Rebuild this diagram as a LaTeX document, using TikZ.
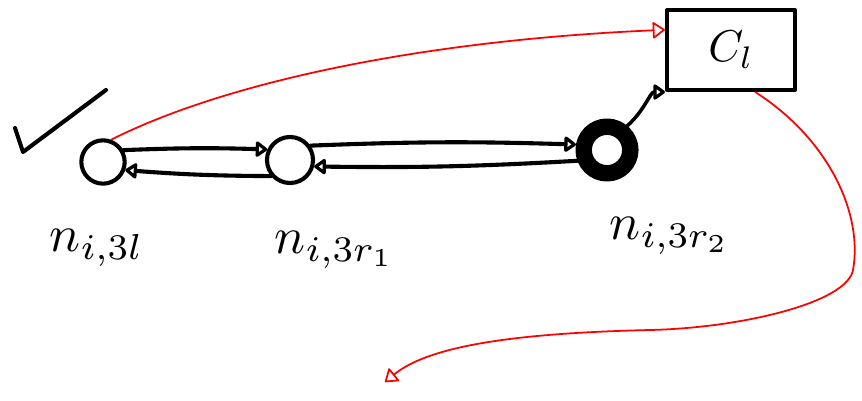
\documentclass[tikz,border=0pt]{standalone}
\usepackage{graphicx}
\usetikzlibrary{arrows.meta}
\newcommand{\bigtxt}[1]{\scalebox{4.4}{#1}}
\begin{document}
\begin{tikzpicture}[x=0.03cm, y=-0.03cm, line cap=round, line join=round,
    >={Triangle[open, length=11pt, width=15pt, round]},
    nd/.style={draw, circle, line width=3.5pt, minimum size=1.3cm, inner sep=0pt},
    link/.style={->, line width=3.5pt},
    back/.style={->, red, line width=1.5pt}]
    \useasboundingbox (0,0) rectangle (862,401);

    % Check mark
    \draw[line width=3.5pt] (15,128) -- (23,152) -- (106,90);

    % Nodes
    \node[nd] (nl) at (103,162) {};
    \node[nd, minimum size=1.38cm] (nrone) at (290,160) {};
    \node[nd, line width=14pt, minimum size=1.4cm] (nrtwo) at (607,150) {};
    \node[draw, line width=3.5pt, minimum width=3.84cm, minimum height=2.4cm] (cl) at (731,50) {\scalebox{3.8}{$C_l$}};

    % Labels
    \node (tl) at (97,248) {\bigtxt{$n_{i,3l}$}};
    \node (tone) at (335,250) {\bigtxt{$n_{i,3r_1}$}};
    \node (ttwo) at (670,236) {\bigtxt{$n_{i,3r_2}$}};

    % Forward and backward links
    \draw[link] (nl.30) to[bend left=2] (nrone.155);
    \draw[link] (nrone.35) to[bend left=2] (nrtwo.170);
    \draw[link] (nrtwo.200) to[bend left=2] (nrone.-15);
    \draw[link] (nrone.220) to[bend left=2] (nl.-20);
    \draw[->, line width=3pt] (nrtwo.50) .. controls (645,110) and (650,92) .. (cl.south west);

    % Red feedback
    \coordinate (lost) at (385,382);
    \draw[back] (nl.70) .. controls (230,80) and (430,40) .. (cl.163);
    \draw[back] (cl.-60) .. controls (830,140) and (863,215) .. (853,270)
        .. controls (847,303) and (740,328) .. (650,330)
        .. controls (520,333) and (430,345) .. (lost);
\end{tikzpicture}
\end{document}
